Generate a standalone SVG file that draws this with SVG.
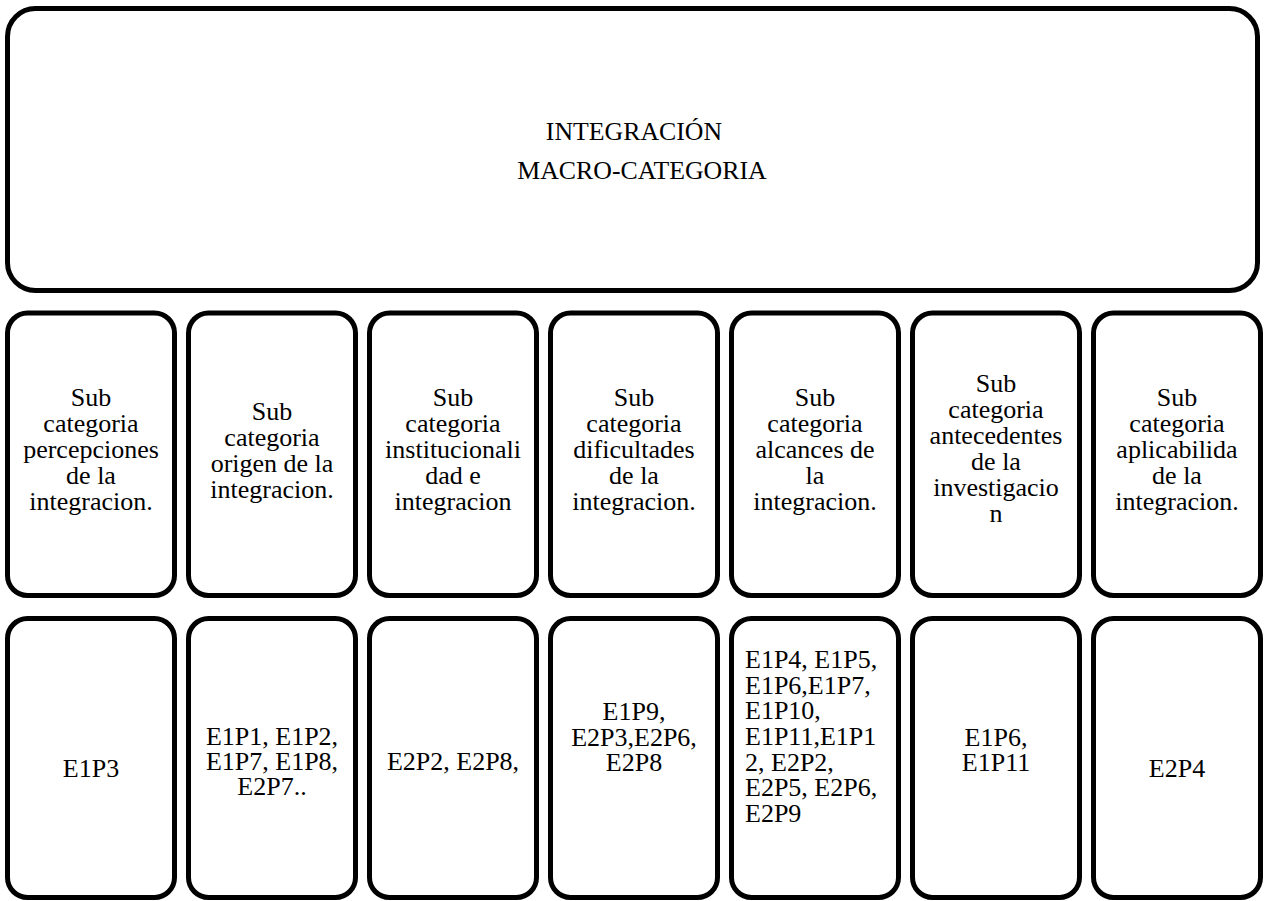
<svg xmlns="http://www.w3.org/2000/svg" width="1265" height="901" viewBox="0 0 1265 901">
<style>
.box{fill:#fff;stroke:#000;stroke-width:5}
text{font-family:'Liberation Serif','Times New Roman',Times,serif;fill:#000}
.t{font-size:26px;text-anchor:middle}
.tl{font-size:26px}
.big{font-size:25.8px;text-anchor:middle}
</style>
<rect width="1265" height="901" fill="#fff"/>
<g id="macro">
<rect class="box" x="7.5" y="8.5" width="1250" height="282" rx="28"/>
<text class="big" x="634" y="139.5">INTEGRACIÓN</text>
<text class="big" x="642" y="178.5">MACRO-CATEGORIA</text>
</g>
<g id="connectors"></g>
<g id="sub1">
<rect class="box" x="7.5" y="313" width="167" height="282.5" rx="20"/>
<text class="t"><tspan x="91" y="406">Sub</tspan><tspan x="91" y="432">categoria</tspan><tspan x="91" y="458">percepciones</tspan><tspan x="91" y="484">de la</tspan><tspan x="91" y="510">integracion.</tspan></text>
</g>
<g id="sub2">
<rect class="box" x="188.5" y="313" width="167" height="282.5" rx="20"/>
<text class="t"><tspan x="272" y="420">Sub</tspan><tspan x="272" y="446">categoria</tspan><tspan x="272" y="472">origen de la</tspan><tspan x="272" y="498">integracion.</tspan></text>
</g>
<g id="sub3">
<rect class="box" x="369.5" y="313" width="167" height="282.5" rx="20"/>
<text class="t"><tspan x="453" y="406">Sub</tspan><tspan x="453" y="432">categoria</tspan><tspan x="453" y="458">institucionali</tspan><tspan x="453" y="484">dad e</tspan><tspan x="453" y="510">integracion</tspan></text>
</g>
<g id="sub4">
<rect class="box" x="550.5" y="313" width="167" height="282.5" rx="20"/>
<text class="t"><tspan x="634" y="406">Sub</tspan><tspan x="634" y="432">categoria</tspan><tspan x="634" y="458">dificultades</tspan><tspan x="634" y="484">de la</tspan><tspan x="634" y="510">integracion.</tspan></text>
</g>
<g id="sub5">
<rect class="box" x="731.5" y="313" width="167" height="282.5" rx="20"/>
<text class="t"><tspan x="815" y="406">Sub</tspan><tspan x="815" y="432">categoria</tspan><tspan x="815" y="458">alcances de</tspan><tspan x="815" y="484">la</tspan><tspan x="815" y="510">integracion.</tspan></text>
</g>
<g id="sub6">
<rect class="box" x="912.5" y="313" width="167" height="282.5" rx="20"/>
<text class="t"><tspan x="996" y="392">Sub</tspan><tspan x="996" y="418">categoria</tspan><tspan x="996" y="444">antecedentes</tspan><tspan x="996" y="470">de la</tspan><tspan x="996" y="496">investigacio</tspan><tspan x="996" y="522">n</tspan></text>
</g>
<g id="sub7">
<rect class="box" x="1093.5" y="313" width="167" height="282.5" rx="20"/>
<text class="t"><tspan x="1177" y="406">Sub</tspan><tspan x="1177" y="432">categoria</tspan><tspan x="1177" y="458">aplicabilida</tspan><tspan x="1177" y="484">de la</tspan><tspan x="1177" y="510">integracion.</tspan></text>
</g>
<g id="codes1">
<rect class="box" x="7.5" y="618.5" width="167" height="279" rx="20"/>
<text class="t" x="91" y="776.5">E1P3</text>
</g>
<g id="codes2">
<rect class="box" x="188.5" y="618.5" width="167" height="279" rx="20"/>
<text class="t"><tspan x="272" y="745">E1P1, E1P2,</tspan><tspan x="272" y="770">E1P7, E1P8,</tspan><tspan x="272" y="795">E2P7..</tspan></text>
</g>
<g id="codes3">
<rect class="box" x="369.5" y="618.5" width="167" height="279" rx="20"/>
<text class="t" x="453" y="770">E2P2, E2P8,</text>
</g>
<g id="codes4">
<rect class="box" x="550.5" y="618.5" width="167" height="279" rx="20"/>
<text class="t"><tspan x="634" y="720">E1P9,</tspan><tspan x="634" y="745.5">E2P3,E2P6,</tspan><tspan x="634" y="771">E2P8</tspan></text>
</g>
<g id="codes5">
<rect class="box" x="731.5" y="618.5" width="167" height="279" rx="20"/>
<text class="tl"><tspan x="745" y="668">E1P4, E1P5,</tspan><tspan x="745" y="693.5">E1P6,E1P7,</tspan><tspan x="745" y="719">E1P10,</tspan><tspan x="745" y="745">E1P11,E1P1</tspan><tspan x="745" y="770.5">2, E2P2,</tspan><tspan x="745" y="796">E2P5, E2P6,</tspan><tspan x="745" y="822">E2P9</tspan></text>
</g>
<g id="codes6">
<rect class="box" x="912.5" y="618.5" width="167" height="279" rx="20"/>
<text class="t"><tspan x="996" y="745.5">E1P6,</tspan><tspan x="996" y="771">E1P11</tspan></text>
</g>
<g id="codes7">
<rect class="box" x="1093.5" y="618.5" width="167" height="279" rx="20"/>
<text class="t" x="1177" y="776.5">E2P4</text>
</g>
</svg>
